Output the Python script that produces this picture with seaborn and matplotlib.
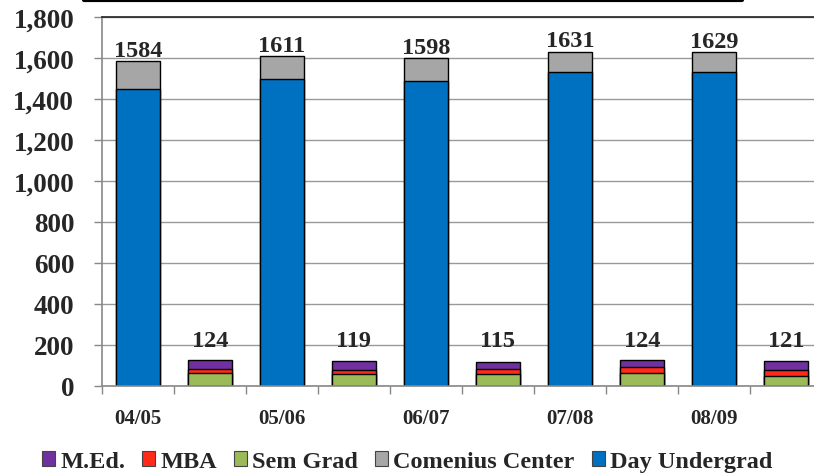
import numpy as np
import pandas as pd
import matplotlib
matplotlib.use('Agg')
import matplotlib.pyplot as plt
from matplotlib.lines import Line2D
from matplotlib.patches import Patch
from matplotlib.ticker import FuncFormatter, FixedLocator, FixedFormatter, NullFormatter
import seaborn as sns

# Academic years (one undergrad bar + one grad bar per year)
years = ['04/05', '05/06', '06/07', '07/08', '08/09']

# Undergrad stack
day_undergrad = [1450, 1495, 1488, 1530, 1533]
comenius = [134, 116, 110, 101, 96]

# Grad stack
sem_grad = [60, 56, 57, 60, 49]
mba = [21, 19, 23, 30, 29]
med = [43, 44, 35, 34, 43]

colors = {
    'M.Ed.': '#7030A0',
    'MBA': '#FF2A1A',
    'Sem Grad': '#9BBB59',
    'Comenius Center': '#A6A6A6',
    'Day Undergrad': '#0070C0',
}

def build_frame():
    # 10 slots: even = undergrad, odd = grad; cumulative heights per layer
    rows = []
    for i, yr in enumerate(years):
        ug = f'{yr} UG'
        gr = f'{yr} GR'
        rows.append({'slot': ug, 'layer': 'Day Undergrad', 'top': day_undergrad[i]})
        rows.append({'slot': ug, 'layer': 'Comenius Center', 'top': day_undergrad[i] + comenius[i]})
        rows.append({'slot': gr, 'layer': 'Sem Grad', 'top': sem_grad[i]})
        rows.append({'slot': gr, 'layer': 'MBA', 'top': sem_grad[i] + mba[i]})
        rows.append({'slot': gr, 'layer': 'M.Ed.', 'top': sem_grad[i] + mba[i] + med[i]})
    return pd.DataFrame(rows)

df = build_frame()
slots = list(dict.fromkeys(df['slot']))

sns.set_style('white')
plt.rcParams['font.family'] = ['Liberation Serif', 'DejaVu Serif']
plt.rcParams['font.weight'] = 'bold'

fig = plt.figure(figsize=(8.14, 4.77), dpi=100)
ax = fig.add_axes([0.1253, 0.1893, 0.8845, 0.773])

# draw tallest layers first so lower layers sit on top
for layer in ['Comenius Center', 'Day Undergrad', 'M.Ed.', 'MBA', 'Sem Grad']:
    sub = df[df['layer'] == layer]
    sns.barplot(data=sub, x='slot', y='top', order=slots, color=colors[layer],
                width=0.6, edgecolor='black', linewidth=1.0, saturation=1, ax=ax)

ax.set_xlim(-0.5, 9.5)
ax.set_ylim(0, 1800)
ax.set_yticks(np.arange(0, 1801, 200))
ax.yaxis.set_major_formatter(FuncFormatter(lambda v, p: f'{int(v):,}'))
ax.tick_params(axis='y', labelsize=19.5, length=6, width=1, color='#888888',
               direction='out', left=True, pad=14)
for lab in ax.get_yticklabels():
    lab.set_fontweight('bold')

# x: tick marks at slot boundaries, labels under undergrad bars
ax.xaxis.set_major_locator(FixedLocator(np.arange(-0.5, 10, 1)))
ax.xaxis.set_major_formatter(NullFormatter())
ax.xaxis.set_minor_locator(FixedLocator(np.arange(0, 10, 2)))
ax.xaxis.set_minor_formatter(FixedFormatter(years))
ax.tick_params(axis='x', which='major', length=6, width=1, color='#888888',
               direction='out', bottom=True)
ax.tick_params(axis='x', which='minor', length=0, pad=16, labelsize=15)
ax.set_xlabel('')
ax.set_ylabel('')

ax.grid(axis='y', color='#999999', linewidth=1)
ax.set_axisbelow(True)
for side in ['left', 'bottom']:
    ax.spines[side].set_color('#888888')
    ax.spines[side].set_linewidth(1.2)
ax.spines['top'].set_color('#222222')
ax.spines['top'].set_linewidth(1.2)
ax.spines['right'].set_visible(False)

# totals above each stack
for i in range(len(years)):
    ug_total = day_undergrad[i] + comenius[i]
    gr_total = sem_grad[i] + mba[i] + med[i]
    ax.text(2 * i, ug_total + 25, str(ug_total), ha='center', va='baseline',
            fontsize=17.5, fontweight='bold')
    ax.text(2 * i + 1, 195, str(gr_total), ha='center', va='baseline',
            fontsize=17.5, fontweight='bold')

# thick rule at top of the slide
fig.add_artist(Line2D([84 / 814, 742 / 814], [0.997, 0.997], color='black',
                      linewidth=3, transform=fig.transFigure))

handles = [Patch(facecolor=colors[k], edgecolor='#444444', linewidth=0.8, label=k)
           for k in ['M.Ed.', 'MBA', 'Sem Grad', 'Comenius Center', 'Day Undergrad']]
fig.legend(handles=handles, loc='center', bbox_to_anchor=(0.5, 0.03), ncol=5,
           frameon=False, prop={'size': 17.5, 'weight': 'bold'},
           handlelength=0.55, handleheight=0.55, handletextpad=0.2, columnspacing=0.7)

fig.savefig('out.png', dpi=100)
